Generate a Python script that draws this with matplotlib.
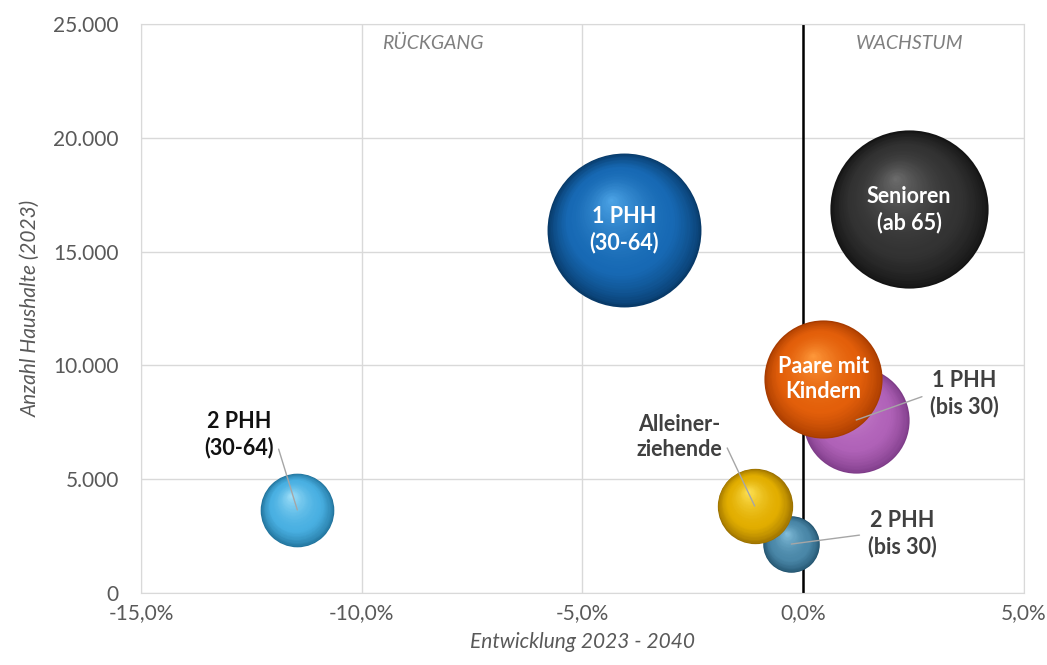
import numpy as np
import matplotlib
matplotlib.use("Agg")
import matplotlib.pyplot as plt
import matplotlib.transforms as mtransforms
from matplotlib.colors import to_rgb
from matplotlib.ticker import FuncFormatter, MultipleLocator

plt.rcParams['font.family'] = ['Lato', 'DejaVu Sans']

# Daten
gruppen = ['1 PHH\n(30-64)', 'Senioren\n(ab 65)', '1 PHH\n(bis 30)', 'Paare mit\nKindern',
           '2 PHH\n(bis 30)', 'Alleiner-\nziehende', '2 PHH\n(30-64)']
entwicklung = [-4.05, 2.4, 1.2, 0.45, -0.27, -1.1, -11.46]   # % 2023 - 2040
haushalte = [15950, 16850, 7600, 9400, 2150, 3820, 3650]      # Anzahl 2023

# Farben: dunkel (Rand), mitte, hell (Glanzlicht)
farben = [
    ('#083A69', '#1769B4', '#4FA6E8'),
    ('#141414', '#333333', '#6E6E6E'),
    ('#7E3C88', '#B062B8', '#DA96DC'),
    ('#A83C00', '#E35F0A', '#FF9A3C'),
    ('#22536E', '#4A87A8', '#86C1DD'),
    ('#9A7000', '#E2AE00', '#FFE45A'),
    ('#21739C', '#49B0E2', '#A4E2FA'),
]
innen = [True, True, False, True, False, False, False]
# Position der aussenliegenden Beschriftungen (Daten-Koordinaten) und Anker
text_pos = [None, None, (3.65, 8750), None, (2.24, 2590), (-2.81, 6850), (-12.77, 6950)]
text_ha = [None, None, 'left', None, 'left', 'right', 'right']
text_farbe = [None, None, '#404040', None, '#404040', '#404040', '#111111']

groesse_faktor = 0.77  # points^2 je Haushalt


def mix(a, b, t):
    a, b = np.array(to_rgb(a)), np.array(to_rgb(b))
    return tuple(a + (b - a) * t)


def kugel(ax, x, y, s, dunkel, mitte, hell, z):
    r = np.sqrt(s) / 2
    n = 45
    for k in range(n):
        t = k / n
        if t < 0.3:
            c = mix(dunkel, mitte, (t / 0.3) ** 0.7)
        else:
            c = mix(mitte, hell, ((t - 0.3) / 0.7) ** 1.6)
        tr = mtransforms.offset_copy(ax.transData, fig=ax.figure,
                                     x=-0.18 * r * t, y=0.40 * r * t, units='points')
        ax.scatter([x], [y], s=s * (1 - t) ** 2, color=c, lw=0,
                   transform=tr, zorder=z)


fig = plt.figure(figsize=(10.47, 6.65), dpi=100)
ax = fig.add_axes([0.1347, 0.1083, 0.8433, 0.8556])

ax.set_xlim(-15, 5)
ax.set_ylim(0, 25000)
ax.xaxis.set_major_locator(MultipleLocator(5))
ax.yaxis.set_major_locator(MultipleLocator(5000))
ax.xaxis.set_major_formatter(FuncFormatter(lambda v, p: f'{v:.1f}%'.replace('.', ',')))
ax.yaxis.set_major_formatter(FuncFormatter(lambda v, p: f'{int(v):,}'.replace(',', '.')))
ax.grid(color='#D9D9D9', lw=1)
ax.set_axisbelow(True)
for sp in ax.spines.values():
    sp.set_color('#D9D9D9')
ax.tick_params(length=0, labelsize=15, colors='#595959')
ax.tick_params(axis='x', pad=7)
ax.tick_params(axis='y', pad=16)

ax.axvline(0, color='black', lw=1.8, zorder=2)

for i in range(len(gruppen)):
    s = haushalte[i] * groesse_faktor
    kugel(ax, entwicklung[i], haushalte[i], s, *farben[i], z=3 + i)
    if innen[i]:
        ax.text(entwicklung[i], haushalte[i], gruppen[i], ha='center', va='center',
                color='white', fontsize=15.5, fontweight='bold', linespacing=1.25, zorder=20)
    else:
        ax.annotate(gruppen[i], xy=(entwicklung[i], haushalte[i]), xytext=text_pos[i],
                    ha='center', va='center', color=text_farbe[i], fontsize=15.5,
                    fontweight='bold', linespacing=1.25, zorder=20,
                    arrowprops=dict(arrowstyle='-', color='#A6A6A6', lw=1,
                                    shrinkA=4, shrinkB=0,
                                    relpos=(0, 0.5) if text_ha[i] == 'left' else (1, 0.5)))

ax.text(0.33, 0.965, 'RÜCKGANG', transform=ax.transAxes, ha='center', va='center',
        fontsize=14, style='italic', color='#7F7F7F')
ax.text(0.871, 0.965, 'WACHSTUM', transform=ax.transAxes, ha='center', va='center',
        fontsize=14, style='italic', color='#7F7F7F')

ax.set_xlabel('Entwicklung 2023 - 2040', fontsize=15, style='italic', color='#595959', labelpad=7)
ax.set_ylabel('Anzahl Haushalte (2023)', fontsize=15, style='italic', color='#595959', labelpad=9)

fig.savefig('out.png', dpi=100)
